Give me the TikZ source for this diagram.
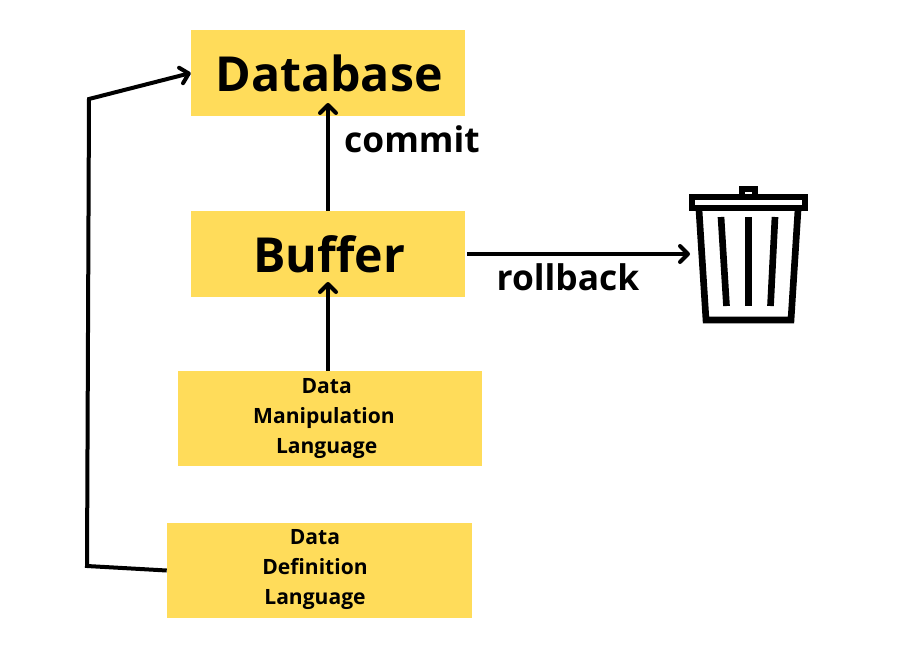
\documentclass[tikz,border=0pt]{standalone}
\usepackage{fontspec}
\setmainfont{Open Sans}
\usetikzlibrary{arrows.meta}
\definecolor{boxyellow}{HTML}{FFDC5A}
\tikzset{
	boxnode/.style={fill=boxyellow, inner sep=0pt, font=\fontsize{36.2}{40}\selectfont\bfseries},
	smalltext/.style={align=center, inner sep=0pt, font=\fontsize{15.8}{22.5}\selectfont\bfseries},
	flowtext/.style={inner sep=0pt, font=\fontsize{26.5}{30}\selectfont\bfseries},
	flow/.style={line width=3pt, -{Straight Barb[length=6pt,width=12pt,round]}},
	can/.style={line width=5pt, line join=miter}
}
\begin{document}
\begin{tikzpicture}[x=0.75pt,y=-0.75pt]
		\useasboundingbox (0,0) rectangle (900,650);
		\draw (328,73) node[boxnode, minimum width=205.5pt, minimum height=64.5pt] (database) {\hspace*{1.5pt}\raisebox{-1.2pt}{Database}};
		\draw (328,254) node[boxnode, minimum width=205.5pt, minimum height=64.5pt] (buffer) {\hspace*{1.5pt}\raisebox{-1.2pt}{Buffer}};
		\draw (330,418.5) node[boxnode, minimum width=228pt, minimum height=71.25pt] (dml) {};
		\draw (319.5,570.5) node[boxnode, minimum width=228.75pt, minimum height=71.25pt] (ddl) {};
		\draw (324,418.5) node[smalltext] (dmltext) {\hspace*{4pt}Data\\Manipulation\\\hspace*{4pt}Language};
		\draw (315,569.5) node[smalltext] (ddltext) {Data\\Definition\\Language};
		\draw (412,139) node[flowtext] (commit) {commit};
		\draw (568,277) node[flowtext] (rollback) {rollback};
		\coordinate (dbin) at (328,103);
		\coordinate (bufin) at (328,282);
		\coordinate (binin) at (690,254);
		\coordinate (lowcorner) at (87,566);
		\coordinate (highcorner) at (89,99);
		\draw[flow] (buffer.north) -- (dbin);
		\draw[flow] (dml.north -| bufin) -- (bufin);
		\draw[flow] (buffer.east -| 467,0) -- (binin);
		\draw[flow, line join=miter] (ddl.west) -- (lowcorner) -- (highcorner) -- (database.west);
		% bin
		\draw[can] (692,197) rectangle (805,208);
		\draw[can] (742,194) -- (742,189) -- (755,189) -- (755,194);
		\draw[can] (699,210) -- (706,320) -- (791,320) -- (798,210);
		\draw[can] (721,217) -- (726.5,306);
		\draw[can] (748.5,217) -- (748.5,306);
		\draw[can] (775,217) -- (770.5,306);
	\end{tikzpicture}
\end{document}
